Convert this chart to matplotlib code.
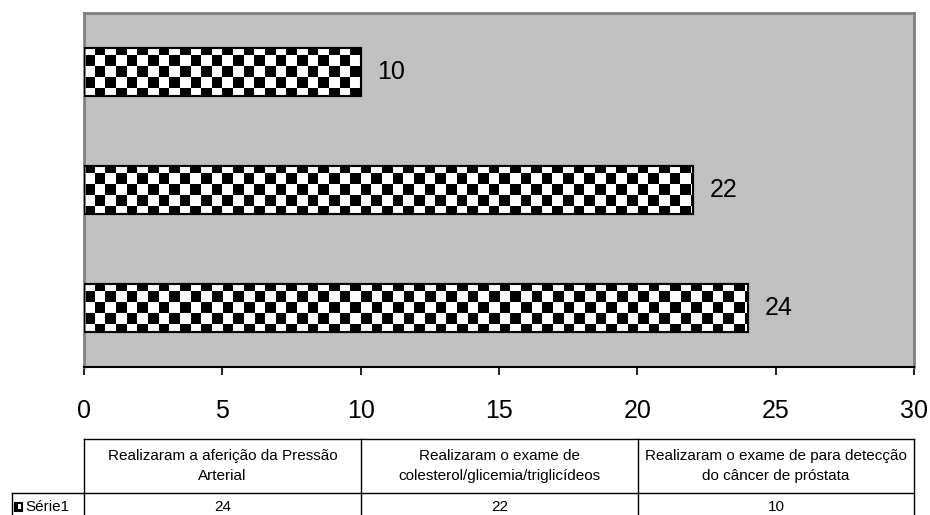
import numpy as np
import matplotlib
matplotlib.use('Agg')
import matplotlib.pyplot as plt
from matplotlib.patches import Rectangle

categories = ['Realizaram a aferição da Pressão\nArterial',
              'Realizaram o exame de\ncolesterol/glicemia/triglicídeos',
              'Realizaram o exame de para detecção\ndo câncer de próstata']
values = [24, 22, 10]
series_name = 'Série1'
xticks = [0, 5, 10, 15, 20, 25, 30]

plt.rcParams['font.family'] = ['Liberation Sans', 'DejaVu Sans']

W, H = 930, 515
fig = plt.figure(figsize=(W / 100, H / 100), dpi=100)


def fx(px):
    return px / W


def fy(py):
    return 1 - py / H


ax = fig.add_axes([fx(84), fy(367), fx(914) - fx(84), fy(13) - fy(367)])
ax.set_facecolor('#c0c0c0')

ypos = np.arange(len(values))
bars = ax.barh(ypos, values, height=0.41, color='white', edgecolor='black',
               linewidth=1.5, zorder=2)

# checkerboard fill, one image per bar clipped to it
nx, ny = 78, 33
board = (np.add.outer(np.arange(ny), np.arange(nx)) % 2).astype(float)
for b in bars:
    im = ax.imshow(board, extent=(0, 30, -0.5, 2.5), aspect='auto',
                   cmap='gray', interpolation='none', zorder=2.5)
    im.set_clip_path(b)
    rect = Rectangle(b.get_xy(), b.get_width(), b.get_height(), fill=False,
                     edgecolor='black', linewidth=1.5, zorder=3)
    ax.add_patch(rect)

for y, v in zip(ypos, values):
    ax.annotate(str(v), (v, y), xytext=(12, 0), textcoords='offset points',
                va='center', ha='left', fontsize=18)

ax.set_xlim(0, 30)
ax.set_ylim(-0.5, 2.5)
ax.set_xticks(xticks)
ax.set_yticks([])
ax.tick_params(axis='x', direction='out', length=6, width=1.2, pad=17,
               labelsize=18)
for s in ['top', 'right', 'left']:
    ax.spines[s].set_color('#808080')
    ax.spines[s].set_linewidth(2)
ax.spines['bottom'].set_color('black')
ax.spines['bottom'].set_linewidth(1.5)

# data table below the chart
cols = [84, 361, 638, 914]
top, mid, bot = 439, 493, 518
lw = 1.0
fig.add_artist(plt.Line2D([fx(84), fx(914)], [fy(top), fy(top)], color='black', lw=lw))
fig.add_artist(plt.Line2D([fx(12), fx(914)], [fy(mid), fy(mid)], color='black', lw=lw))
for c in cols:
    fig.add_artist(plt.Line2D([fx(c), fx(c)], [fy(top), fy(bot)], color='black', lw=lw))
fig.add_artist(plt.Line2D([fx(12), fx(12)], [fy(mid), fy(bot)], color='black', lw=lw))

for i, cat in enumerate(categories):
    cx = (cols[i] + cols[i + 1]) / 2
    fig.text(fx(cx), fy(466), cat, ha='center', va='center', fontsize=11,
             linespacing=1.6)
    fig.text(fx(cx), fy(507), str(values[i]), ha='center', va='center',
             fontsize=11)

fig.add_artist(Rectangle((fx(14), fy(511)), fx(8), fy(502) - fy(511),
                         facecolor='black', edgecolor='black', lw=0.8))
fig.add_artist(Rectangle((fx(18), fy(509)), fx(3), fy(504) - fy(509),
                         facecolor='white', edgecolor='none'))
fig.text(fx(25), fy(507), series_name, ha='left', va='center', fontsize=11)

fig.savefig('out.png', dpi=100)
